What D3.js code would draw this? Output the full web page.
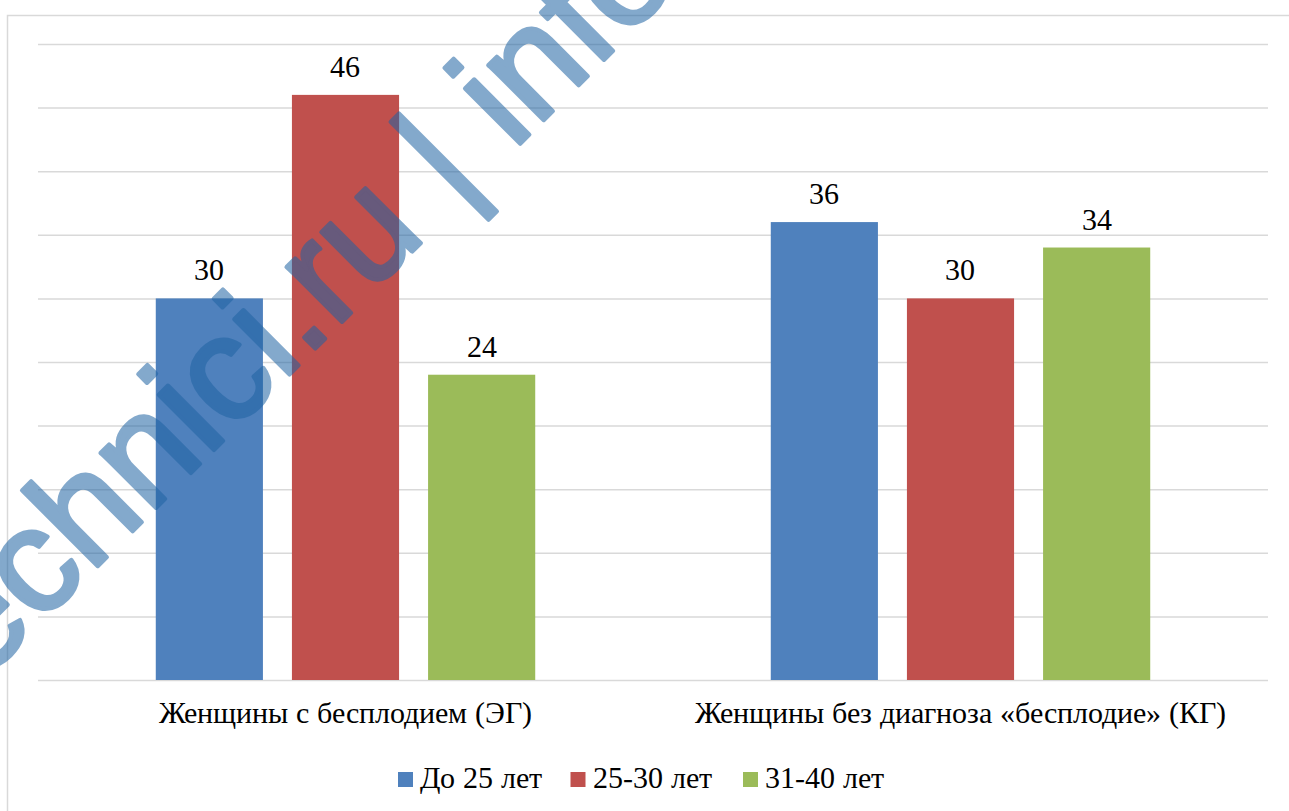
<!DOCTYPE html>
<html>
<head>
<meta charset="utf-8">
<script src="https://cdn.jsdelivr.net/npm/d3@7"></script>
<style>
  @font-face {
    font-family: "Chart Serif";
    src: local("Liberation Serif"), local("LiberationSerif"), local("LiberationSerif-Regular");
    font-display: swap;
  }
</style>
</head>
<body style="margin:0">
<svg id="chart" width="1289" height="811"></svg>
<script>
// Age groups (series) and study groups (categories)
const categories = ["Женщины с бесплодием (ЭГ)", "Женщины без диагноза «бесплодие» (КГ)"];
const seriesNames = ["До 25 лет", "25-30 лет", "31-40 лет"];
const seriesColors = ["#4F81BD", "#C0504D", "#9BBB59"];
const valuesEG = [30, 46, 24];
const valuesKG = [36, 30, 34];
const gridTicks = [0, 5, 10, 15, 20, 25, 30, 35, 40, 45, 50];

const rows = categories.map((c, i) => ({
  category: c,
  values: [valuesEG, valuesKG][i]
}));

const labelFont = '"Chart Serif", "Liberation Serif", "Times New Roman", serif';
const markFont = '"Liberation Sans", Arial, sans-serif';
const labelSize = 30;

const svg = d3.select("#chart");
const W = 1289, H = 811;
const plotLeft = 38, plotRight = 1268, plotTop = 44, plotBottom = 680;

// chart area frame
svg.append("rect")
  .attr("x", 7.5).attr("y", 15.5)
  .attr("width", W + 20).attr("height", H + 20)
  .attr("fill", "#fff").attr("stroke", "#D9D9D9").attr("stroke-width", 1.5);

const x0 = d3.scaleBand().domain(categories).range([plotLeft, plotRight]);
const x1 = d3.scaleBand().domain(seriesNames)
  .range([0, x0.bandwidth() * 0.617])
  .paddingInner(0.213).paddingOuter(0);
const y = d3.scaleLinear().domain([0, 50]).range([plotBottom, plotTop]);

// horizontal gridlines
svg.append("g")
  .attr("transform", `translate(${plotLeft},0)`)
  .call(d3.axisLeft(y).tickValues(gridTicks).tickSize(-(plotRight - plotLeft)).tickFormat(""))
  .call(g => g.select(".domain").remove())
  .call(g => g.selectAll("line").attr("stroke", "#D9D9D9").attr("stroke-width", 1.5));

// bars
const groups = svg.append("g").selectAll("g")
  .data(rows).join("g")
  .attr("transform", d => `translate(${x0(d.category) + (x0.bandwidth() - x1.range()[1]) / 2},0)`);

groups.selectAll("rect")
  .data(d => d.values.map((v, i) => ({ name: seriesNames[i], value: v, color: seriesColors[i] })))
  .join("rect")
  .attr("x", d => x1(d.name))
  .attr("y", d => y(d.value))
  .attr("width", x1.bandwidth())
  .attr("height", d => y(0) - y(d.value))
  .attr("fill", d => d.color);

// value labels
groups.selectAll("text")
  .data(d => d.values.map((v, i) => ({ name: seriesNames[i], value: v })))
  .join("text")
  .attr("x", d => x1(d.name) + x1.bandwidth() / 2)
  .attr("y", d => y(d.value) - 18)
  .attr("text-anchor", "middle")
  .style("font-family", labelFont)
  .attr("font-size", labelSize)
  .text(d => d.value);

// category labels under each group
svg.append("g").selectAll("text")
  .data(categories).join("text")
  .attr("x", d => x0(d) + x0.bandwidth() / 2)
  .attr("y", plotBottom + 43)
  .attr("text-anchor", "middle")
  .style("font-family", labelFont)
  .attr("font-size", labelSize)
  .text(d => d);

// legend
const legendX = d3.scalePoint().domain(seriesNames).range([398, 743]);
const legendItems = svg.append("g").selectAll("g")
  .data(seriesNames).join("g")
  .attr("transform", d => `translate(${legendX(d)},788)`);
legendItems.append("rect")
  .attr("x", 0).attr("y", -16).attr("width", 15).attr("height", 15)
  .attr("fill", (d, i) => seriesColors[i]);
legendItems.append("text")
  .attr("x", 22).attr("y", 0)
  .style("font-family", labelFont)
  .attr("font-size", labelSize)
  .text(d => d);

// site watermark across the plot
const wm = svg.append("g")
  .attr("transform", "translate(457,207) rotate(-45)")
  .attr("opacity", 0.55)
  .attr("fill", "#1F63A3").attr("stroke", "#1F63A3").attr("stroke-width", 4)
  .attr("stroke-linejoin", "round")
  .style("font-family", markFont)
  .attr("font-size", 148);
wm.append("text").attr("text-anchor", "end").text("technici.ru\u00A0");
wm.append("text").attr("text-anchor", "start").text("| info");
</script>
</body>
</html>
